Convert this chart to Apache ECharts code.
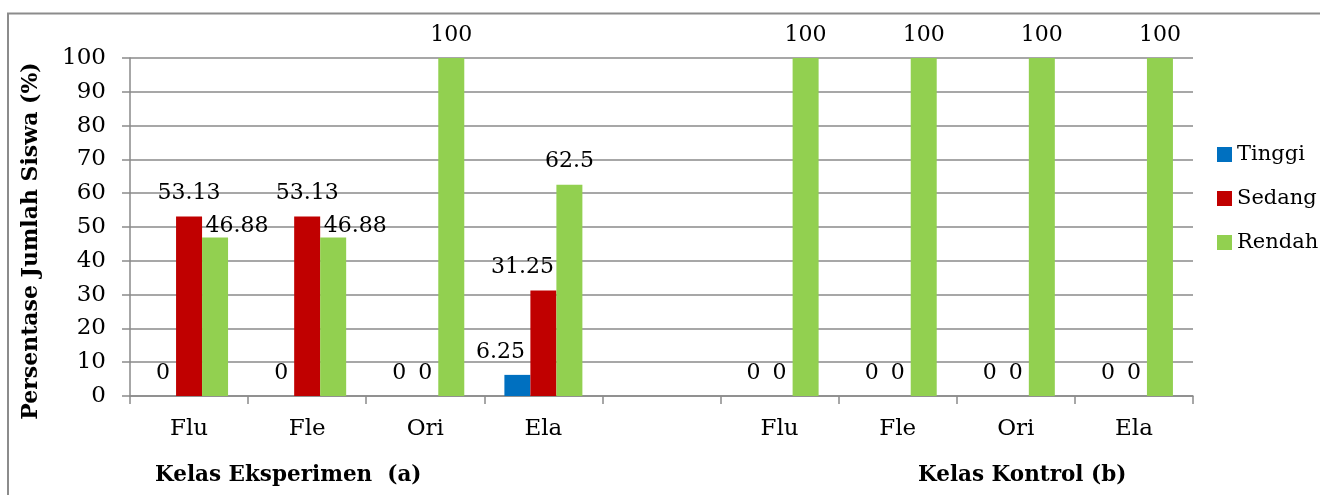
<!DOCTYPE html>
<html>
<head>
<meta charset="utf-8">
<script src="https://cdn.jsdelivr.net/npm/echarts@6/dist/echarts.min.js"></script>
<style>
  html, body { margin: 0; padding: 0; background: #fff; }
  #chart { width: 1320px; height: 495px; }
</style>
</head>
<body>
<div id="chart"></div>
<script>
// Aspect categories for the experiment group, a blank spacer, then the control group
const categories = ['Flu', 'Fle', 'Ori', 'Ela', '', 'Flu', 'Fle', 'Ori', 'Ela'];
const tinggi = [0, 0, 0, 6.25, null, 0, 0, 0, 0];
const sedang = [53.13, 53.13, 0, 31.25, null, 0, 0, 0, 0];
const rendah = [46.88, 46.88, 100, 62.5, null, 100, 100, 100, 100];
const yTicks = { min: 0, max: 100, interval: 10 };
const groupTitles = ['Kelas Eksperimen  (a)', 'Kelas Kontrol (b)'];

const FONT = 'DejaVu Serif';
const GRID = '#8a8a8a';

// Some value labels are nudged sideways so they don't collide with neighbours
const labelNudge = {
  tinggi: { 3: [-17, 0] },
  sedang: { 3: [-21, 0] },
  rendah: { 0: [22, 12], 1: [22, 12] }
};

function buildData(values, nudges) {
  return values.map((v, i) => {
    const item = { value: v };
    if (nudges && nudges[i]) item.label = { offset: nudges[i] };
    return item;
  });
}

const labelStyle = {
  show: true,
  position: 'top',
  distance: 12,
  fontFamily: FONT,
  fontSize: 22,
  color: '#000'
};

const chart = echarts.init(document.getElementById('chart'), null, { renderer: 'canvas' });

chart.setOption({
  backgroundColor: '#fff',
  animation: false,
  textStyle: { fontFamily: FONT },
  grid: { left: 130, right: 127, top: 58, bottom: 99, containLabel: false },
  legend: {
    orient: 'vertical',
    left: 1212,
    top: 139,
    itemWidth: 15,
    itemHeight: 15,
    itemGap: 23,
    icon: 'rect',
    textStyle: { fontFamily: FONT, fontSize: 21, color: '#000' },
    data: ['Tinggi', 'Sedang', 'Rendah']
  },
  xAxis: {
    type: 'category',
    data: categories,
    axisLine: { lineStyle: { color: GRID, width: 1.5 } },
    axisTick: { show: true, length: 8, lineStyle: { color: GRID, width: 1.5 } },
    axisLabel: { fontFamily: FONT, fontSize: 23, color: '#000', margin: 22 }
  },
  yAxis: {
    type: 'value',
    min: yTicks.min,
    max: yTicks.max,
    interval: yTicks.interval,
    name: 'Persentase Jumlah Siswa (%)',
    nameLocation: 'middle',
    nameGap: 88,
    nameTextStyle: { fontFamily: FONT, fontSize: 22, fontWeight: 'bold', color: '#000', padding: [0, 0, 0, -28] },
    axisLine: { show: true, lineStyle: { color: GRID, width: 1.5 } },
    axisTick: { show: true, length: 8, lineStyle: { color: GRID, width: 1.5 } },
    splitLine: { lineStyle: { color: GRID, width: 1.5 } },
    axisLabel: { fontFamily: FONT, fontSize: 23, color: '#000', margin: 24 }
  },
  series: [
    {
      name: 'Tinggi', type: 'bar', barWidth: 26, barGap: '0%',
      itemStyle: { color: '#0070C0' },
      label: labelStyle,
      data: buildData(tinggi, labelNudge.tinggi)
    },
    {
      name: 'Sedang', type: 'bar', barWidth: 26, barGap: '0%',
      itemStyle: { color: '#C00000' },
      label: labelStyle,
      data: buildData(sedang, labelNudge.sedang)
    },
    {
      name: 'Rendah', type: 'bar', barWidth: 26, barGap: '0%',
      itemStyle: { color: '#92D050' },
      label: labelStyle,
      data: buildData(rendah, labelNudge.rendah)
    }
  ],
  graphic: [
    {
      type: 'rect', silent: true, z: -1,
      shape: { x: 8, y: 13.5, width: 1400, height: 600 },
      style: { fill: null, stroke: '#8c8c8c', lineWidth: 2 }
    },
    {
      type: 'text', left: 155, top: 464,
      style: { text: groupTitles[0], font: 'bold 21.5px "DejaVu Serif"', fill: '#000' }
    },
    {
      type: 'text', left: 918, top: 464,
      style: { text: groupTitles[1], font: 'bold 21.5px "DejaVu Serif"', fill: '#000' }
    }
  ]
});
</script>
</body>
</html>
